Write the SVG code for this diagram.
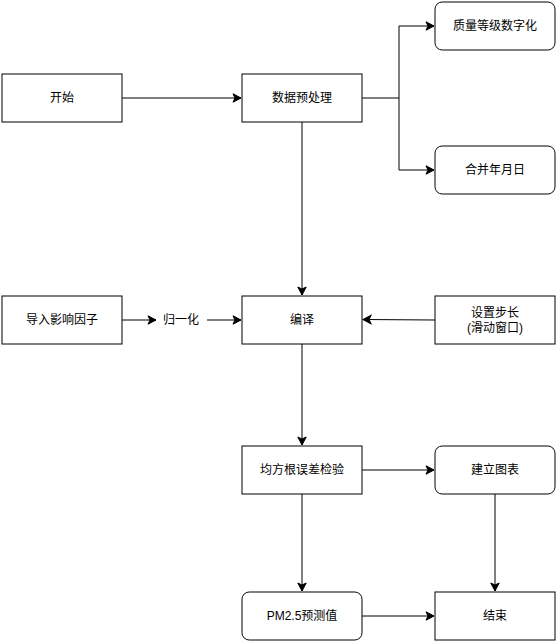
<svg xmlns="http://www.w3.org/2000/svg" width="557" height="644" viewBox="0 0 557 644">
<style>
.box{fill:#fff;stroke:#000;stroke-width:1}
.lbl{font-family:"Liberation Sans","Noto Sans CJK SC",sans-serif;font-size:12px;fill:#000;text-anchor:middle;dominant-baseline:central}
.edge{fill:none;stroke:#000;stroke-width:1}
</style>
<defs>
<marker id="ah" markerWidth="12" markerHeight="12" refX="9" refY="6" orient="auto" markerUnits="userSpaceOnUse">
<path d="M1,1.8 L9,6 L1,10.2 L3,6 Z" fill="#000" stroke="#000" stroke-width="1"/>
</marker>
</defs>
<rect width="557" height="644" fill="#fff"/>
<g id="connectors">
<path class="edge" d="M122,98 L241,98" marker-end="url(#ah)"/>
<path class="edge" d="M362,98 L399,98 L399,26 L434,26" marker-end="url(#ah)"/>
<path class="edge" d="M399,98 L399,170 L434,170" marker-end="url(#ah)"/>
<path class="edge" d="M302,122 L302,295" marker-end="url(#ah)"/>
<path class="edge" d="M122,320 L156,320" marker-end="url(#ah)"/>
<path class="edge" d="M207,320 L241,320" marker-end="url(#ah)"/>
<path class="edge" d="M435,320 L363,319.5" marker-end="url(#ah)"/>
<path class="edge" d="M302,344 L302,445" marker-end="url(#ah)"/>
<path class="edge" d="M362,470 L434,470" marker-end="url(#ah)"/>
<path class="edge" d="M302,494 L302,591" marker-end="url(#ah)"/>
<path class="edge" d="M495,494 L495,591" marker-end="url(#ah)"/>
<path class="edge" d="M362,616 L434,616" marker-end="url(#ah)"/>
</g>
<g id="start"><rect class="box" x="2" y="74" width="120" height="48"/><text class="lbl" x="62" y="98">开始</text></g>
<g id="preprocess"><rect class="box" x="242" y="74" width="120" height="48"/><text class="lbl" x="302" y="98">数据预处理</text></g>
<g id="quality"><rect class="box" x="435" y="2" width="120" height="48" rx="7.2"/><text class="lbl" x="495" y="26">质量等级数字化</text></g>
<g id="merge"><rect class="box" x="435" y="146" width="120" height="48" rx="7.2"/><text class="lbl" x="495" y="170">合并年月日</text></g>
<g id="import"><rect class="box" x="2" y="296" width="120" height="48"/><text class="lbl" x="62" y="320">导入影响因子</text></g>
<g id="normalize"><text class="lbl" x="181" y="320">归一化</text></g>
<g id="compile"><rect class="box" x="242" y="296" width="120" height="48"/><text class="lbl" x="302" y="320">编译</text></g>
<g id="step"><rect class="box" x="435" y="296" width="120" height="48"/><text class="lbl" x="495" y="313">设置步长</text><text class="lbl" x="495" y="328">(滑动窗口)</text></g>
<g id="rmse"><rect class="box" x="242" y="446" width="120" height="48"/><text class="lbl" x="302" y="470">均方根误差检验</text></g>
<g id="chart"><rect class="box" x="435" y="446" width="120" height="48" rx="7.2"/><text class="lbl" x="495" y="470">建立图表</text></g>
<g id="predict"><rect class="box" x="242" y="592" width="120" height="48" rx="7.2"/><text class="lbl" x="302" y="616">PM2.5预测值</text></g>
<g id="end"><rect class="box" x="435" y="592" width="120" height="48"/><text class="lbl" x="495" y="616">结束</text></g>
</svg>
